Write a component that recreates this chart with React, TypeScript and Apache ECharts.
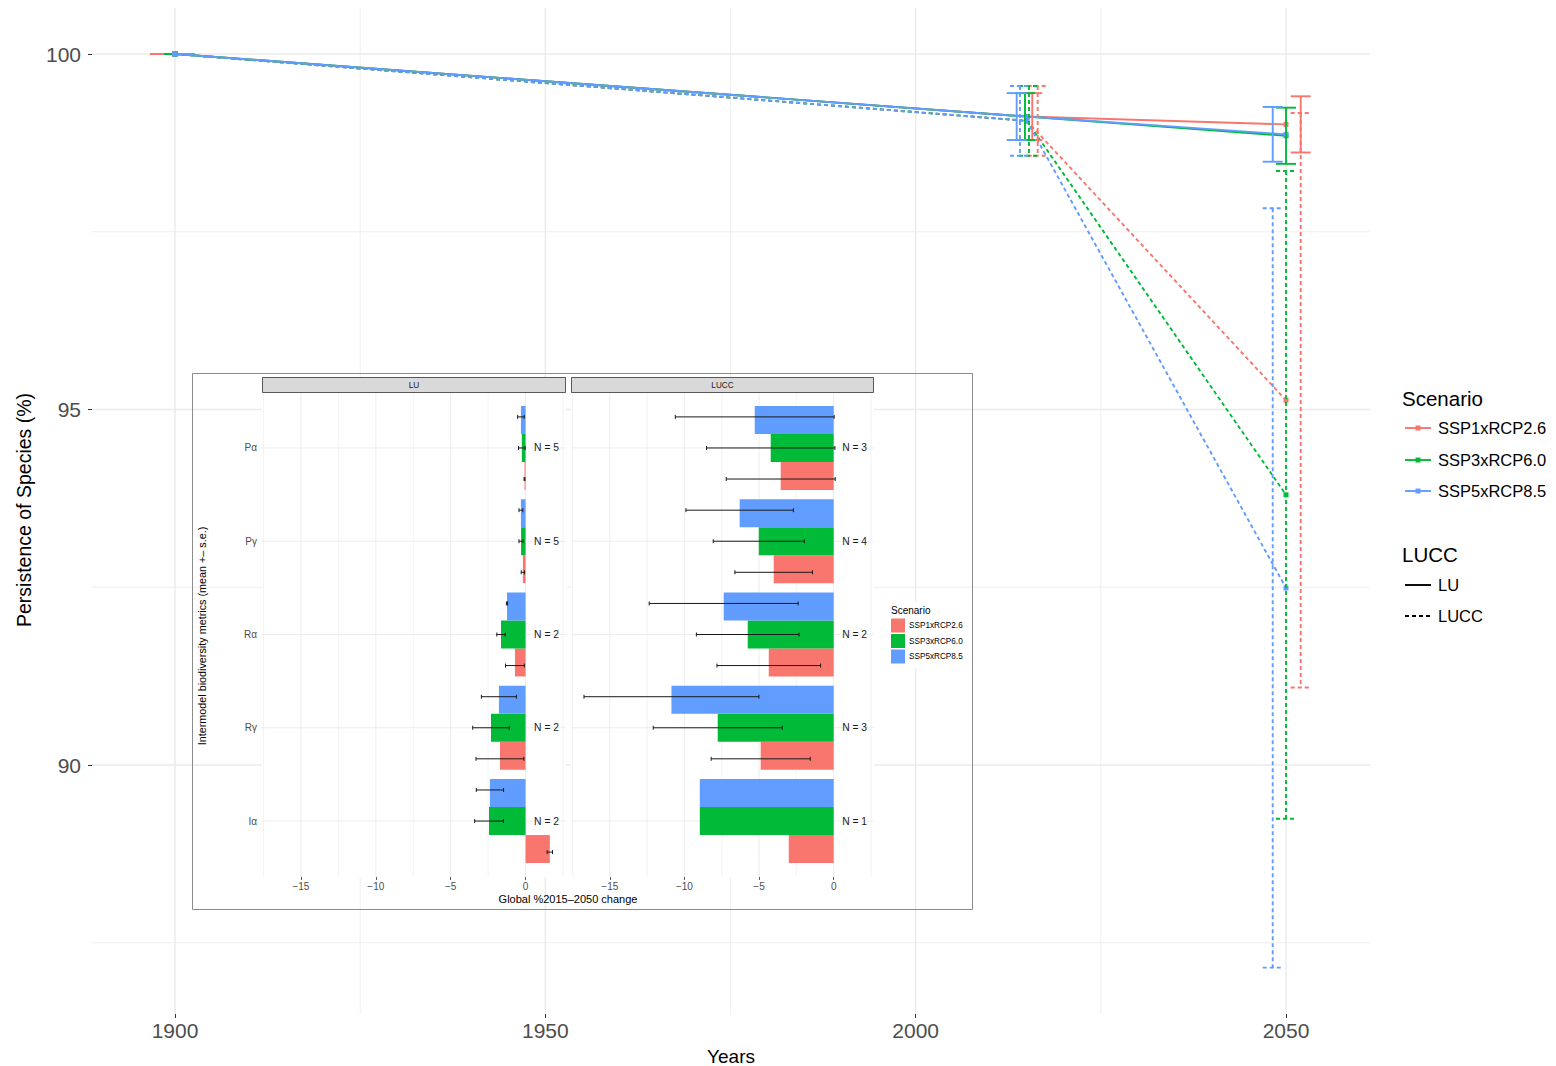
import React, { useEffect, useRef } from 'react';
import * as echarts from 'echarts';

// ---------------- DATA ----------------
const years = [1900, 2015, 2050];
const scenarios = ['SSP1xRCP2.6', 'SSP3xRCP6.0', 'SSP5xRCP8.5'];
const luccTypes = ['LU', 'LUCC'];

// Persistence of species (%) — mean
const luMeanSSP1 = [100, 99.12, 99.01];
const luMeanSSP3 = [100, 99.12, 98.85];
const luMeanSSP5 = [100, 99.12, 98.87];
const luccMeanSSP1 = [100, 99.06, 95.13];
const luccMeanSSP3 = [100, 99.06, 93.8];
const luccMeanSSP5 = [100, 99.06, 92.49];
// standard errors
const luSeSSP1 = [0, 0.33, 0.395];
const luSeSSP3 = [0, 0.33, 0.395];
const luSeSSP5 = [0, 0.33, 0.385];
const luccSeSSP1 = [0, 0.49, 4.04];
const luccSeSSP3 = [0, 0.49, 4.555];
const luccSeSSP5 = [0, 0.49, 5.34];

const mainXTicks = [1900, 1950, 2000, 2050];
const mainXMinor = [1925, 1975, 2025];
const mainYTicks = [90, 95, 100];
const mainYMinor = [87.5, 92.5, 97.5];

// Inset: global % change 2015-2050
const metrics = ['Pα', 'Pγ', 'Rα', 'Rγ', 'Iα'];
const insetLuSSP1 = [-0.07, -0.18, -0.71, -1.71, 1.62];
const insetLuSSP3 = [-0.25, -0.3, -1.64, -2.31, -2.44];
const insetLuSSP5 = [-0.31, -0.31, -1.24, -1.78, -2.38];
const insetLuSeSSP1 = [0.03, 0.11, 0.63, 1.6, 0.18];
const insetLuSeSSP3 = [0.22, 0.14, 0.28, 1.22, 0.96];
const insetLuSeSSP5 = [0.22, 0.13, 0.04, 1.17, 0.91];
const insetLuccSSP1 = [-3.55, -4.02, -4.35, -4.89, -3.01];
const insetLuccSSP3 = [-4.22, -5.02, -5.76, -7.77, -8.97];
const insetLuccSSP5 = [-5.29, -6.3, -7.37, -10.87, -8.97];
const insetLuccSeSSP1: (number | null)[] = [3.65, 2.6, 3.47, 3.32, null];
const insetLuccSeSSP3: (number | null)[] = [4.3, 3.05, 3.44, 4.32, null];
const insetLuccSeSSP5: (number | null)[] = [5.32, 3.6, 4.99, 5.86, null];
const insetLuN = [5, 5, 2, 2, 2];
const insetLuccN = [3, 4, 2, 3, 1];
const insetXTicks = [-15, -10, -5, 0];
const insetXMinor = [-17.5, -12.5, -7.5, -2.5, 2.5];
const insetYTicks = [1, 2, 3, 4, 5];

// ---------------- STYLE ----------------
const COLORS = ['#F8766D', '#00BA38', '#619CFF'];
const FONT = '"Liberation Sans", Arial, Helvetica, sans-serif';
const GRID_COLOR = '#ebebeb';
const DASH = [4, 3];
const MAIN = { xMin: 1888.79, xMax: 2061.34, yMin: 86.498, yMax: 100.647 };
const INSET = { xMin: -17.6, xMax: 2.7, yMin: 0.4, yMax: 5.6 };
// pixel dodge of error bars per scenario, per year index
const DODGE_SOLID = [[-15, 5.5, 14.7], [-1, -1.8, 0], [7, -10.1, -13.3]];
const DODGE_DASHED = [[-11, 10.9, 14.7], [3, 2.2, 0], [12, -6.8, -13.3]];
const CAP = 10;
const BAR_OFFSET = [0.3, 0, -0.3];
const ERR_OFFSET = [0.333, 0, -0.333];
const BAR_HALF = 0.15;
const N_LABEL_X = 1.4;

function buildOption() {
  const means = [
    [luMeanSSP1, luMeanSSP3, luMeanSSP5],
    [luccMeanSSP1, luccMeanSSP3, luccMeanSSP5],
  ];
  const ses = [
    [luSeSSP1, luSeSSP3, luSeSSP5],
    [luccSeSSP1, luccSeSSP3, luccSeSSP5],
  ];
  const insetMeans = [
    [insetLuSSP1, insetLuSSP3, insetLuSSP5],
    [insetLuccSSP1, insetLuccSSP3, insetLuccSSP5],
  ];
  const insetSes = [
    [insetLuSeSSP1, insetLuSeSSP3, insetLuSeSSP5],
    [insetLuccSeSSP1, insetLuccSeSSP3, insetLuccSeSSP5],
  ];
  const insetNs = [insetLuN, insetLuccN];

  const series: any[] = [];

  // main grid lines
  const mainGridData: number[][] = [];
  mainXTicks.forEach((v) => mainGridData.push([v, 0, 1]));
  mainXMinor.forEach((v) => mainGridData.push([v, 0, 0]));
  mainYTicks.forEach((v) => mainGridData.push([v, 1, 1]));
  mainYMinor.forEach((v) => mainGridData.push([v, 1, 0]));
  const gridRenderer = (xMin: number, yMin: number, majW: number, minW: number) =>
    (params: any, api: any) => {
      const cs = params.coordSys;
      const v = api.value(0);
      const o = api.value(1);
      const maj = api.value(2);
      const style = { stroke: GRID_COLOR, lineWidth: maj ? majW : minW };
      if (o === 0) {
        const p = api.coord([v, yMin]);
        return { type: 'line', shape: { x1: p[0], y1: cs.y, x2: p[0], y2: cs.y + cs.height }, style };
      }
      const p = api.coord([xMin, v]);
      return { type: 'line', shape: { x1: cs.x, y1: p[1], x2: cs.x + cs.width, y2: p[1] }, style };
    };
  series.push({
    type: 'custom',
    xAxisIndex: 0,
    yAxisIndex: 0,
    z: 0,
    silent: true,
    data: mainGridData,
    renderItem: gridRenderer(MAIN.xMin, MAIN.yMin, 1.4, 0.8),
  });

  // inset panels
  [0, 1].forEach((p) => {
    const ax = p + 1;
    series.push({
      type: 'custom',
      xAxisIndex: ax,
      yAxisIndex: ax,
      z: 1,
      silent: true,
      data: [[0, 1]],
      renderItem: (params: any) => {
        const cs = params.coordSys;
        return { type: 'rect', shape: { x: cs.x, y: cs.y, width: cs.width, height: cs.height }, style: { fill: '#ffffff' } };
      },
    });
    const gd: number[][] = [];
    insetXTicks.forEach((v) => gd.push([v, 0, 1]));
    insetXMinor.forEach((v) => gd.push([v, 0, 0]));
    insetYTicks.forEach((v) => gd.push([v, 1, 1]));
    series.push({
      type: 'custom',
      xAxisIndex: ax,
      yAxisIndex: ax,
      z: 2,
      silent: true,
      data: gd,
      renderItem: gridRenderer(INSET.xMin, INSET.yMin, 0.9, 0.6),
    });
    [0, 1, 2].forEach((s) => {
      const vals = insetMeans[p][s];
      series.push({
        type: 'custom',
        name: scenarios[s],
        xAxisIndex: ax,
        yAxisIndex: ax,
        z: 3,
        silent: true,
        data: vals.map((v, i) => [v, i + 1]),
        renderItem: (params: any, api: any) => {
          const v = api.value(0);
          const c = api.value(1);
          const p0 = api.coord([0, c + BAR_OFFSET[s] - BAR_HALF]);
          const p1 = api.coord([v, c + BAR_OFFSET[s] + BAR_HALF]);
          return {
            type: 'rect',
            shape: {
              x: Math.min(p0[0], p1[0]),
              y: Math.min(p0[1], p1[1]),
              width: Math.abs(p1[0] - p0[0]),
              height: Math.abs(p1[1] - p0[1]),
            },
            style: { fill: COLORS[s] },
          };
        },
      });
    });
    [0, 1, 2].forEach((s) => {
      const vals = insetMeans[p][s];
      const se = insetSes[p][s];
      const d: number[][] = [];
      vals.forEach((v, i) => {
        const e = se[i];
        if (e !== null && e !== undefined) d.push([v - e, v + e, i + 1]);
      });
      series.push({
        type: 'custom',
        xAxisIndex: ax,
        yAxisIndex: ax,
        z: 4,
        silent: true,
        data: d,
        renderItem: (params: any, api: any) => {
          const lo = api.value(0);
          const hi = api.value(1);
          const c = api.value(2);
          const a = api.coord([lo, c + ERR_OFFSET[s]]);
          const b = api.coord([hi, c + ERR_OFFSET[s]]);
          const st = { stroke: '#1a1a1a', lineWidth: 1 };
          return {
            type: 'group',
            children: [
              { type: 'line', shape: { x1: a[0], y1: a[1], x2: b[0], y2: b[1] }, style: st },
              { type: 'line', shape: { x1: a[0], y1: a[1] - 2, x2: a[0], y2: a[1] + 2 }, style: st },
              { type: 'line', shape: { x1: b[0], y1: b[1] - 2, x2: b[0], y2: b[1] + 2 }, style: st },
            ],
          };
        },
      });
    });
    const ns = insetNs[p];
    series.push({
      type: 'custom',
      xAxisIndex: ax,
      yAxisIndex: ax,
      z: 4,
      silent: true,
      data: ns.map((n, i) => [n, i + 1]),
      renderItem: (params: any, api: any) => {
        const n = api.value(0);
        const c = api.value(1);
        const pt = api.coord([N_LABEL_X, c]);
        return {
          type: 'text',
          x: pt[0],
          y: pt[1],
          style: {
            text: 'N = ' + n,
            fill: '#1a1a1a',
            font: `10.3px ${FONT}`,
            textAlign: 'center',
            textVerticalAlign: 'middle',
          },
        };
      },
    });
  });

  // main lines: dashed first then solid
  [1, 0].forEach((l) => {
    [0, 1, 2].forEach((s) => {
      series.push({
        type: 'line',
        name: scenarios[s] + ' ' + luccTypes[l],
        xAxisIndex: 0,
        yAxisIndex: 0,
        z: 5,
        silent: true,
        data: years.map((y, i) => [y, means[l][s][i]]),
        symbol: 'rect',
        symbolSize: 5,
        showSymbol: true,
        lineStyle: { color: COLORS[s], width: 1.9, type: l === 1 ? DASH : 'solid' },
        itemStyle: { color: COLORS[s] },
      });
    });
  });

  // main error bars
  [1, 0].forEach((l) => {
    [0, 1, 2].forEach((s) => {
      const dodge = l === 1 ? DODGE_DASHED[s] : DODGE_SOLID[s];
      series.push({
        type: 'custom',
        xAxisIndex: 0,
        yAxisIndex: 0,
        z: 6,
        silent: true,
        encode: { x: 0, y: [1, 2] },
        data: years.map((y, i) => [y, means[l][s][i] - ses[l][s][i], means[l][s][i] + ses[l][s][i]]),
        renderItem: (params: any, api: any) => {
          const i = params.dataIndex;
          const x = api.value(0);
          const lo = api.value(1);
          const hi = api.value(2);
          const pLo = api.coord([x, lo]);
          const pHi = api.coord([x, hi]);
          const cx = pLo[0] + dodge[i];
          const st: any = { stroke: COLORS[s], lineWidth: 1.9 };
          if (l === 1) st.lineDash = DASH;
          return {
            type: 'group',
            children: [
              { type: 'line', shape: { x1: cx, y1: pHi[1], x2: cx, y2: pLo[1] }, style: st },
              { type: 'line', shape: { x1: cx - CAP, y1: pHi[1], x2: cx + CAP, y2: pHi[1] }, style: st },
              { type: 'line', shape: { x1: cx - CAP, y1: pLo[1], x2: cx + CAP, y2: pLo[1] }, style: st },
            ],
          };
        },
      });
    });
  });

  const minusFmt = (v: number) => (v < 0 ? '\u2212' + Math.abs(v) : String(v));

  const insetX = (gridIndex: number) => ({
    type: 'value',
    gridIndex,
    min: INSET.xMin,
    max: INSET.xMax,
    splitLine: { show: false },
    axisLine: { show: false },
    axisTick: { show: true, customValues: insetXTicks, length: 3, lineStyle: { color: '#333', width: 0.8 } },
    axisLabel: {
      customValues: insetXTicks,
      formatter: minusFmt,
      fontSize: 10,
      fontFamily: FONT,
      color: '#4d4d4d',
      margin: 4,
    },
  });
  const insetY = (gridIndex: number, showLabels: boolean) => ({
    type: 'value',
    gridIndex,
    min: INSET.yMin,
    max: INSET.yMax,
    inverse: true,
    splitLine: { show: false },
    axisLine: { show: false },
    axisTick: { show: showLabels, customValues: insetYTicks, length: 3, lineStyle: { color: '#333', width: 0.8 } },
    axisLabel: {
      show: showLabels,
      customValues: insetYTicks,
      formatter: (v: number) => metrics[Math.round(v) - 1] || '',
      fontSize: 10,
      fontFamily: FONT,
      color: '#4d4d4d',
      margin: 5,
    },
  });

  const txt = (text: string, x: number, y: number, size: number, extra: any = {}) => ({
    type: 'text',
    x,
    y,
    z: 10,
    silent: true,
    style: {
      text,
      font: `${size}px ${FONT}`,
      fill: extra.fill || '#000',
      textAlign: extra.align || 'left',
      textVerticalAlign: 'middle',
    },
    rotation: extra.rotation || 0,
  });

  const graphic: any[] = [];
  // main axis titles
  graphic.push(txt('Years', 731, 1056, 19, { align: 'center' }));
  graphic.push(txt('Persistence of Species (%)', 24, 510, 19.5, { align: 'center', rotation: Math.PI / 2 }));
  // main legend
  graphic.push(txt('Scenario', 1402, 398, 20.5));
  const legY = [428, 460, 491];
  scenarios.forEach((name, s) => {
    graphic.push({
      type: 'line', z: 10, silent: true,
      shape: { x1: 1405, y1: legY[s], x2: 1431, y2: legY[s] },
      style: { stroke: COLORS[s], lineWidth: 1.9 },
    });
    graphic.push({
      type: 'rect', z: 10, silent: true,
      shape: { x: 1415.5, y: legY[s] - 2.5, width: 5, height: 5 },
      style: { fill: COLORS[s] },
    });
    graphic.push(txt(name, 1438, legY[s], 16.5));
  });
  graphic.push(txt('LUCC', 1402, 554, 20.5));
  const legY2 = [585, 616];
  luccTypes.forEach((name, l) => {
    const st: any = { stroke: '#000', lineWidth: 1.9 };
    if (l === 1) st.lineDash = DASH;
    graphic.push({
      type: 'line', z: 10, silent: true,
      shape: { x1: 1405, y1: legY2[l], x2: 1431, y2: legY2[l] },
      style: st,
    });
    graphic.push(txt(name, 1438, legY2[l], 16.5));
  });

  // inset frame
  graphic.push({
    type: 'rect', z: 10, silent: true,
    shape: { x: 192.5, y: 373.5, width: 780, height: 536 },
    style: { fill: 'none', stroke: '#8c8c8c', lineWidth: 1 },
  });
  // strips
  [
    { x: 262.5, w: 303, label: 'LU', cx: 414 },
    { x: 571.5, w: 302, label: 'LUCC', cx: 722.5 },
  ].forEach((st) => {
    graphic.push({
      type: 'rect', z: 10, silent: true,
      shape: { x: st.x, y: 377.5, width: st.w, height: 15 },
      style: { fill: '#d9d9d9', stroke: '#333', lineWidth: 0.8 },
    });
    graphic.push(txt(st.label, st.cx, 385, 8.2, { align: 'center', fill: '#1a1a1a' }));
  });
  // inset axis titles
  graphic.push(txt('Global %2015\u20132050 change', 568, 899, 11, { align: 'center' }));
  graphic.push(txt('Intermodel biodiversity metrics (mean +\u2013 s.e.)', 202, 636, 10.8, { align: 'center', rotation: Math.PI / 2 }));
  // inset legend
  graphic.push({
    type: 'rect', z: 10, silent: true,
    shape: { x: 886, y: 602, width: 84, height: 66 },
    style: { fill: '#ffffff' },
  });
  graphic.push(txt('Scenario', 891, 610, 10));
  const swY = [618.5, 634, 649.5];
  scenarios.forEach((name, s) => {
    graphic.push({
      type: 'rect', z: 10, silent: true,
      shape: { x: 891, y: swY[s], width: 14, height: 14 },
      style: { fill: COLORS[s] },
    });
    graphic.push(txt(name, 909, swY[s] + 7, 8.2));
  });

  return {
    animation: false,
    backgroundColor: '#ffffff',
    textStyle: { fontFamily: FONT },
    grid: [
      { left: 92, top: 8, width: 1278, height: 1006, containLabel: false },
      { left: 262, top: 392, width: 304, height: 485, containLabel: false },
      { left: 571, top: 392, width: 303, height: 485, containLabel: false },
    ],
    xAxis: [
      {
        type: 'value',
        gridIndex: 0,
        min: MAIN.xMin,
        max: MAIN.xMax,
        splitLine: { show: false },
        axisLine: { show: false },
        axisTick: { show: true, customValues: mainXTicks, length: 4, lineStyle: { color: '#333', width: 1 } },
        axisLabel: {
          customValues: mainXTicks,
          formatter: (v: number) => String(v),
          fontSize: 21,
          fontFamily: FONT,
          color: '#4d4d4d',
          margin: 6,
        },
      },
      insetX(1),
      insetX(2),
    ],
    yAxis: [
      {
        type: 'value',
        gridIndex: 0,
        min: MAIN.yMin,
        max: MAIN.yMax,
        splitLine: { show: false },
        axisLine: { show: false },
        axisTick: { show: true, customValues: mainYTicks, length: 4, lineStyle: { color: '#333', width: 1 } },
        axisLabel: {
          customValues: mainYTicks,
          formatter: (v: number) => String(v),
          fontSize: 21,
          fontFamily: FONT,
          color: '#4d4d4d',
          margin: 11,
        },
      },
      insetY(1, true),
      insetY(2, false),
    ],
    series,
    graphic,
  };
}

export default function App() {
  const ref = useRef<HTMLDivElement>(null);
  useEffect(() => {
    if (!ref.current) return;
    const chart = echarts.init(ref.current, null, { renderer: 'svg' });
    chart.setOption(buildOption() as any);
    return () => chart.dispose();
  }, []);
  return (
    <div
      ref={ref}
      style={{ position: 'absolute', left: 0, top: 0, width: 1556, height: 1066, background: '#fff' }}
    />
  );
}
